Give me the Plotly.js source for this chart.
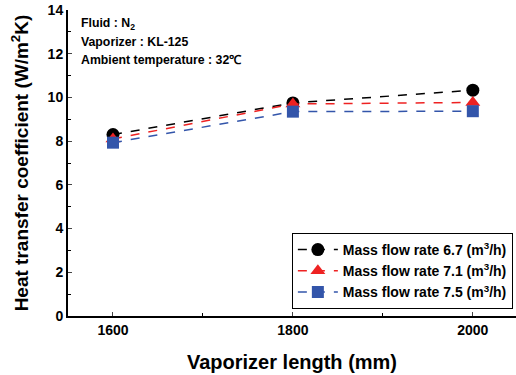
<!DOCTYPE html>
<html><head><meta charset="utf-8">
<script src="https://cdn.plot.ly/plotly-3.0.1.min.js"></script>
<style>body{margin:0;padding:0;background:#fff}#chart{width:516px;height:375px}</style>
</head><body><div id="chart"></div>
<script>
const lengths = [1600, 1800, 2000];
const h67 = [8.30, 9.75, 10.33];
const h71 = [8.10, 9.70, 9.77];
const h75 = [7.93, 9.35, 9.37];
const seriesNames = ['Mass flow rate 6.7 (m<sup>3</sup>/h)','Mass flow rate 7.1 (m<sup>3</sup>/h)','Mass flow rate 7.5 (m<sup>3</sup>/h)'];
const infoLines = ['Fluid : N<sub>2</sub>','Vaporizer : KL-125','Ambient temperature : 32℃'];

const F = 'Liberation Sans, Arial, sans-serif';
function tr(y, name, color, sym, size){
  return {x: lengths, y: y, name: name, type:'scatter', mode:'lines+markers',
    line:{color:color, width:1.5, dash:'dash'},
    marker:{color:color, symbol:sym, size:size}};
}
const data = [
  tr(h67, seriesNames[0], '#000000', 'circle', 13),
  tr(h71, seriesNames[1], '#ee2222', 'triangle-up', 13),
  tr(h75, seriesNames[2], '#3355aa', 'square', 12)
];
const ann = infoLines.map((t,i)=>({text:'<b>'+t+'</b>', xref:'paper', yref:'paper',
  x:0.025, y:(316-(24+i*18))/306, xanchor:'left', yanchor:'middle', showarrow:false,
  font:{family:F, size:12.3, color:'#000'}}));
const layout = {
  width:516, height:375,
  margin:{l:68, r:0, t:10, b:59},
  paper_bgcolor:'#fff', plot_bgcolor:'#fff',
  showlegend:true,
  legend:{x:0.993, xanchor:'right', y:0.023, yanchor:'bottom', bordercolor:'#000', borderwidth:1,
    bgcolor:'#fff', font:{family:F, size:14, color:'#000', weight:'bold'}, tracegroupgap:0, itemwidth:40},
  xaxis:{range:[1550,2048], tickvals:lengths, ticktext:lengths.map(String), ticks:'inside', ticklen:4,
    showgrid:false, zeroline:false, showline:true, linecolor:'#000', linewidth:2,
    tickfont:{family:F, size:14, color:'#000', weight:'bold'},
    minor:{tickvals:[1700,1900], ticks:'inside', ticklen:3, tickcolor:'#000', showgrid:false},
    title:{text:'Vaporizer length (mm)', font:{family:F, size:20, color:'#000', weight:'bold'}, standoff:18}},
  yaxis:{range:[0,14], dtick:2, ticks:'inside', ticklen:4,
    showgrid:false, zeroline:false, showline:true, linecolor:'#000', linewidth:2,
    tickfont:{family:F, size:14, color:'#000', weight:'bold'},
    minor:{dtick:1, ticks:'inside', ticklen:3, tickcolor:'#000', showgrid:false},
    title:{text:'Heat transfer coefficient (W/m<sup>2</sup>K)', font:{family:F, size:19, color:'#000', weight:'bold'}, standoff:14}},
  annotations: ann
};
Plotly.newPlot('chart', data, layout, {displayModeBar:false, staticPlot:true});
</script></body></html>
